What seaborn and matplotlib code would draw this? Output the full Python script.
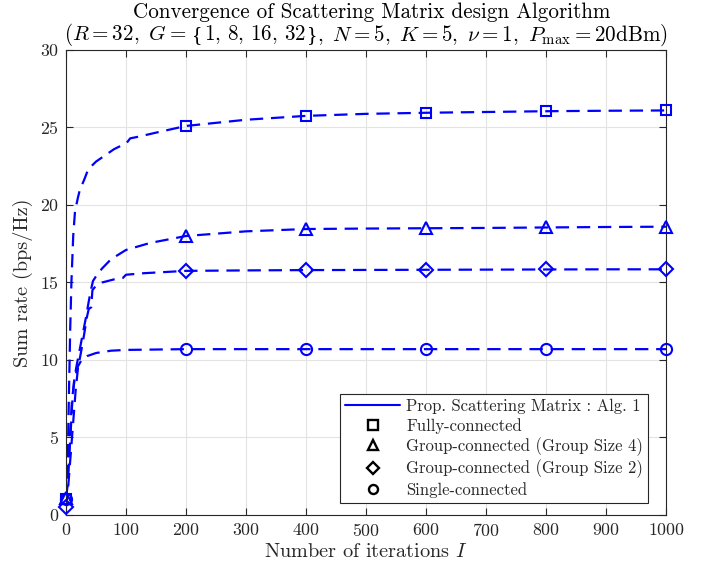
import matplotlib
matplotlib.use("Agg")
import matplotlib.pyplot as plt
from matplotlib.lines import Line2D
import numpy as np
import pandas as pd
import seaborn as sns

# Iteration grids and sum-rate traces for each connectivity architecture
iters_full = [0, 2, 3, 4, 5, 7, 9, 10, 12, 15, 20, 23, 30, 37, 50, 65, 80, 101, 107,
              120, 148, 200, 300, 400, 500, 600, 700, 800, 900, 1000]
rate_full = [1.0, 2.0, 3.5, 6.0, 8.0, 12.0, 15.0, 16.0, 18.0, 19.6, 20.5, 20.97, 21.6,
             22.3, 22.8, 23.2, 23.6, 24.0, 24.3, 24.4, 24.65, 25.1, 25.5, 25.75, 25.88,
             25.95, 26.0, 26.05, 26.08, 26.1]

iters_g4 = [0, 3, 5, 8, 10, 13, 17, 22, 28, 33, 38, 42, 45, 50, 60, 75, 100, 140,
            200, 300, 400, 500, 600, 700, 800, 900, 1000]
rate_g4 = [1.1, 2.0, 3.5, 5.5, 7.0, 8.5, 9.5, 10.5, 11.7, 12.7, 13.8, 14.6, 15.1, 15.4,
           15.9, 16.5, 17.1, 17.55, 18.0, 18.3, 18.45, 18.48, 18.5, 18.52, 18.55, 18.58,
           18.6]

iters_g2 = [0, 3, 6, 10, 13, 16, 20, 25, 30, 35, 38, 42, 44, 50, 60, 80, 95, 100, 130,
            200, 300, 400, 500, 600, 700, 800, 900, 1000]
rate_g2 = [0.5, 1.5, 3.0, 5.0, 6.5, 8.0, 9.5, 10.5, 11.6, 12.8, 13.3, 13.4, 14.5, 14.8,
           15.0, 15.2, 15.3, 15.5, 15.6, 15.75, 15.78, 15.8, 15.81, 15.82, 15.83, 15.84,
           15.85, 15.85]

iters_single = [0, 3, 5, 8, 10, 15, 20, 26, 35, 50, 75, 100, 200, 300, 400, 500, 600,
                700, 800, 900, 1000]
rate_single = [1.0, 2.5, 4.0, 6.0, 7.5, 8.9, 9.6, 10.0, 10.25, 10.45, 10.6, 10.65, 10.7,
               10.7, 10.7, 10.7, 10.7, 10.7, 10.7, 10.7, 10.7]

marker_iters = [0, 200, 400, 600, 800, 1000]

series_labels = ["Fully-connected", "Group-connected (Group Size 4)",
                 "Group-connected (Group Size 2)", "Single-connected"]
series_markers = ["s", "^", "D", "o"]
algo_label = "Prop. Scattering Matrix : Alg. 1"

xticks = list(range(0, 1001, 100))
yticks = list(range(0, 31, 5))

title_line1 = "Convergence of Scattering Matrix design Algorithm"
# second title line, split so the set braces come from a text font
title_line2_parts = [
    (r"$(R=32,\ G=$", "math"),
    ("{", "brace"),
    (r"$1,\,8,\,16,\,32$", "math"),
    ("}", "brace"),
    (r"$,\ N=5,\ K=5,\ \nu=1,\ P_{\max}=20\mathrm{dBm})$", "math"),
]
xlabel_text = r"Number of iterations $I$"
ylabel_text = "Sum rate (bps/Hz)"

sns.set_style("ticks")
plt.rcParams.update({
    "font.family": ["cmr10"],
    "mathtext.fontset": "cm",
    "axes.formatter.use_mathtext": True,
    "axes.unicode_minus": False,
})

frames = []
for lab, xs, ys in zip(series_labels,
                       [iters_full, iters_g4, iters_g2, iters_single],
                       [rate_full, rate_g4, rate_g2, rate_single]):
    frames.append(pd.DataFrame({"iter": xs, "rate": ys, "arch": lab}))
df = pd.concat(frames, ignore_index=True)

blue = "#0000ff"
marker_sizes = {"s": 7.0, "^": 9.0, "D": 7.0, "o": 8.0}

W, H = 709, 574
fig = plt.figure(figsize=(W / 100, H / 100), dpi=100)
ax = fig.add_axes([0.0931, 0.1028, 0.8462, 0.8101])

for lab, mk in zip(series_labels, series_markers):
    sub = df[df["arch"] == lab]
    sns.lineplot(data=sub, x="iter", y="rate", ax=ax, estimator=None, sort=False,
                 color=blue, linewidth=1.6, dashes=False, legend=False)
    ax.lines[-1].set_linestyle((0, (6, 3.5)))
    pts = sub[sub["iter"].isin(marker_iters)]
    ax.plot(pts["iter"], pts["rate"], linestyle="none", marker=mk,
            markersize=marker_sizes[mk], markerfacecolor="none",
            markeredgecolor=blue, markeredgewidth=1.5, clip_on=False, zorder=5)

ax.set_xlim(0, 1000)
ax.set_ylim(0, 30)
ax.set_xticks(xticks)
ax.set_yticks(yticks)
ax.grid(True, color="#e3e3e3", linewidth=0.8)
ax.set_axisbelow(True)
for s in ax.spines.values():
    s.set_color("#262626")
    s.set_linewidth(0.8)
ax.tick_params(direction="in", top=True, right=True, length=5, width=0.8,
               colors="#262626", labelsize=12.8, labelcolor="#262626", pad=5)
ax.set_xlabel(xlabel_text, fontsize=14.6, color="#262626", labelpad=3)
ax.set_ylabel(ylabel_text, fontsize=14.6, color="#262626", labelpad=5)

# two-line title placed by baseline
title_fs = 15.2
title_cx = (0.0931 + 0.8462 / 2) * W
fig.text((title_cx + 6) / W, 1 - 17.5 / H, title_line1, fontsize=title_fs,
         color="black", ha="center", va="baseline")

renderer = fig.canvas.get_renderer()
pieces = []
for txt, kind in title_line2_parts:
    kw = dict(fontsize=title_fs, color="black", ha="left", va="baseline")
    if kind == "brace":
        kw["family"] = ["Liberation Serif"]
        kw["fontsize"] = title_fs * 1.02
    t = fig.text(0, 1 - 40.5 / H, txt, **kw)
    pieces.append(t)
widths = [t.get_window_extent(renderer).width for t in pieces]
extra = [0.0, 5.5, 1.0, 1.0, 0.0]  # space before each piece
total = sum(widths) + sum(extra)
x = title_cx - total / 2
for t, w, gap in zip(pieces, widths, extra):
    x += gap
    t.set_x(x / W)
    x += w

handles = [Line2D([], [], color=blue, linewidth=1.5)]
for mk in series_markers:
    handles.append(Line2D([], [], linestyle="none", marker=mk,
                          markersize=6.5 if mk != "D" else 6, markerfacecolor="none",
                          markeredgecolor="black", markeredgewidth=1.7))
leg = ax.legend(handles, [algo_label] + series_labels, loc="lower right",
                bbox_to_anchor=(0.97, 0.026), borderaxespad=0, fontsize=12,
                frameon=True, fancybox=False, framealpha=1, edgecolor="#262626",
                handlelength=3.3, handletextpad=0.35, labelspacing=0.22,
                borderpad=0.3)
leg.get_frame().set_linewidth(0.8)

fig.savefig("out.png", dpi=100)
